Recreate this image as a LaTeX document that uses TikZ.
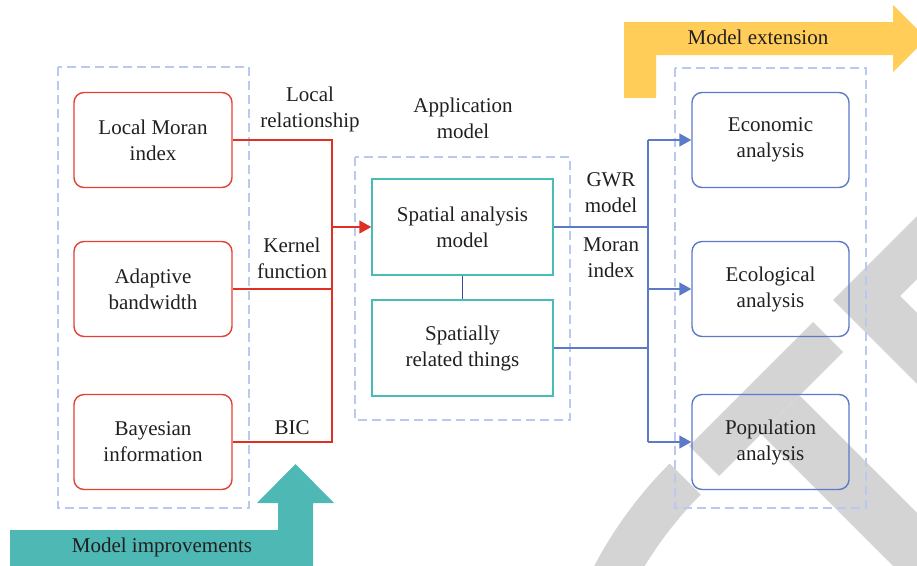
\documentclass[tikz,border=0pt]{standalone}
\usepackage{fontspec}
\setmainfont{Liberation Serif}
\usepackage{xcolor}
\usetikzlibrary{arrows.meta}

\definecolor{boxred}{RGB}{228,64,52}
\definecolor{linered}{RGB}{224,48,36}
\definecolor{boxteal}{RGB}{72,188,182}
\definecolor{boxblue}{RGB}{92,122,200}
\definecolor{linenavy}{RGB}{62,72,160}
\definecolor{dashblue}{RGB}{184,202,240}
\definecolor{arrowyellow}{RGB}{255,205,88}
\definecolor{arrowteal}{RGB}{78,184,180}
\definecolor{wmgray}{RGB}{212,212,212}
\definecolor{ink}{RGB}{35,31,32}

\begin{document}
\begin{tikzpicture}[x=1pt,y=-1pt,
  font=\fontsize{21}{26}\selectfont,
  every node/.style={text=ink},
  redbox/.style={draw=boxred,line width=1.4pt,rounded corners=10pt,minimum width=158pt,minimum height=95pt,align=center},
  bluebox/.style={draw=boxblue,line width=1.4pt,rounded corners=10pt,minimum width=157pt,minimum height=95pt,align=center},
  tealbox/.style={draw=boxteal,line width=1.5pt,minimum width=181pt,minimum height=96pt,align=center},
  dashbox/.style={draw=dashblue,line width=1.2pt,dash pattern=on 9pt off 5pt},
  redline/.style={draw=linered,line width=1.5pt},
  blueline/.style={draw=boxblue,line width=1.5pt},
  tip/.style={-{Triangle[length=12pt,width=13pt]}},
  lbl/.style={align=center}]
\useasboundingbox (0,0) rectangle (917,565);
\clip (0,0) rectangle (917,565);

\fill[wmgray] (917,216) -- (833,300) -- (917,384) -- (917,313) -- (900,296) -- (917,279) -- cycle;
\fill[wmgray] (813,322) -- (843,352) -- (719,476) -- (689,446) -- cycle;
\fill[wmgray] (799.5,395.5) -- (1002,598) -- (963.5,636.5) -- (761,434) -- cycle;
\begin{scope}
\clip (968,762) -- (544,338) -- (400,338) -- (400,800) -- (968,800) -- cycle;
\fill[wmgray,even odd rule] (968,762) circle[radius=422] (968,762) circle[radius=378];
\end{scope}

\fill[arrowyellow] (624,98) -- (624,22) -- (893,22) -- (893,5) -- (926.5,38.5) -- (893,72) -- (893,55) -- (656,55) -- (656,98) -- cycle;
\node (ext) at (758,37) {Model extension};
\fill[arrowteal] (10,530) -- (278,530) -- (278,503) -- (257,503) -- (295.5,464) -- (334,503) -- (313,503) -- (313,570) -- (10,570) -- cycle;
\node (impr) at (162,547) {Model improvements};

\draw[dashbox] (58,67) rectangle (249,508);
\draw[dashbox] (355,157) rectangle (570,420);
\draw[dashbox] (675,68) rectangle (866,508);

\node[redbox] (moran) at (153,140) {Local Moran\\index};
\node[redbox] (bandwidth) at (153,289) {Adaptive\\bandwidth};
\node[redbox] (bayes) at (153,442) {Bayesian\\information};

\node[tealbox] (spatial) at (462.5,227) {Spatial analysis\\model};
\node[tealbox] (related) at (462.5,348) {Spatially\\related things};

\node[bluebox] (econ) at (770.5,140) {Economic\\analysis};
\node[bluebox] (eco) at (770.5,289) {Ecological\\analysis};
\node[bluebox] (popu) at (770.5,442) {Population\\analysis};

\node[lbl] (lrel) at (310,109) {Local\\relationship};
\node[lbl] (kern) at (292,258) {Kernel\\function};
\node (bic) at (292,428) {BIC};
\node[lbl] (app) at (463,118) {Application\\model};
\node[lbl] (gwr) at (611,193) {GWR\\model};
\node[lbl] (mindex) at (611,258) {Moran\\index};

\coordinate (rj) at (332,227);
\draw[redline] (moran.east) -| (rj) |- (bayes.east);
\draw[redline] (bandwidth.east) -- (bandwidth.east -| rj);
\draw[redline,tip] (rj) -- (rj -| spatial.west);

\draw[draw=linenavy,line width=1.2pt] (spatial.south) -- (related.north);

\coordinate (bj) at (648,289);
\draw[blueline] (bj |- econ.west) -- (bj |- popu.west);
\draw[blueline] (spatial.east) -- (spatial.east -| bj);
\draw[blueline] (related.east) -- (related.east -| bj);
\draw[blueline,tip] (bj |- econ.west) -- (econ.west);
\draw[blueline,tip] (bj |- eco.west) -- (eco.west);
\draw[blueline,tip] (bj |- popu.west) -- (popu.west);
\end{tikzpicture}
\end{document}
